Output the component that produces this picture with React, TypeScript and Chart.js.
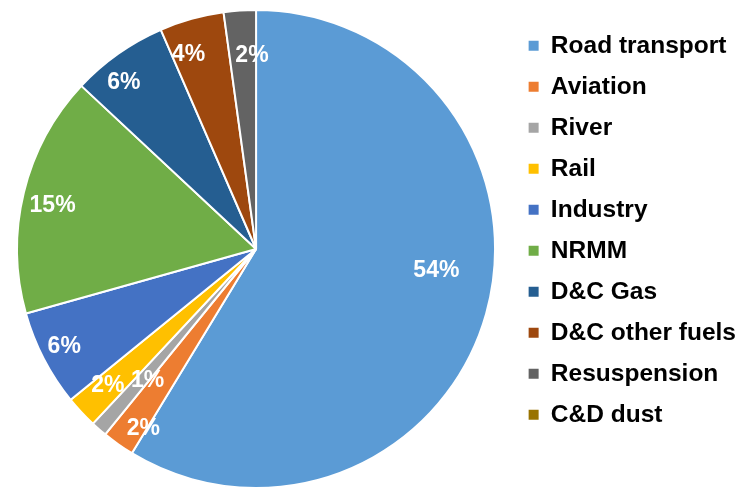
import React, { useEffect, useRef } from "react";
import { Chart, registerables } from "chart.js";

Chart.register(...registerables);

const categories = [
  "Road transport",
  "Aviation",
  "River",
  "Rail",
  "Industry",
  "NRMM",
  "D&C Gas",
  "D&C other fuels",
  "Resuspension",
  "C&D dust",
];
const shares = [54, 2, 1, 2, 6, 15, 6, 4, 2, 0];
const colors = [
  "#5B9BD5",
  "#ED7D31",
  "#A5A5A5",
  "#FFC000",
  "#4472C4",
  "#70AD47",
  "#255E91",
  "#9E480E",
  "#636363",
  "#997300",
];
// label placement hints (fraction of radius, angular nudge in degrees)
const labelRadius = [0.76, 0.887, 0.714, 0.843, 0.9, 0.87, 0.89, 0.86, 0.81, 0.8];
const labelShift = [-8.75, -3.1, -1.6, 0.4, 0.5, -1.8, -3.2, -3.55, 2.7, 0];

const FONT = "'Liberation Sans', Arial, sans-serif";

const labelPlugin = {
  id: "sliceLabels",
  afterDatasetsDraw(chart: any) {
    const ctx = chart.ctx;
    const meta = chart.getDatasetMeta(0);
    ctx.save();
    ctx.font = `bold 23px ${FONT}`;
    ctx.fillStyle = "#FFFFFF";
    ctx.textAlign = "center";
    ctx.textBaseline = "middle";
    meta.data.forEach((arc: any, i: number) => {
      const v = shares[i];
      if (!v) return;
      const { x, y, startAngle, endAngle, outerRadius } = arc.getProps(
        ["x", "y", "startAngle", "endAngle", "outerRadius"],
        true
      );
      const a = (startAngle + endAngle) / 2 + (labelShift[i] * Math.PI) / 180;
      const r = outerRadius * labelRadius[i];
      ctx.fillText(`${v}%`, x + r * Math.cos(a), y + r * Math.sin(a));
    });
    ctx.restore();
  },
};

export default function App() {
  const ref = useRef<HTMLCanvasElement | null>(null);
  useEffect(() => {
    if (!ref.current) return;
    const defaultGen = (Chart as any).overrides.pie.plugins.legend.labels.generateLabels;
    const chart = new Chart(ref.current, {
      type: "pie",
      data: {
        labels: categories,
        datasets: [
          {
            data: shares,
            backgroundColor: colors,
            borderColor: "#FFFFFF",
            borderWidth: 2,
          },
        ],
      },
      options: {
        animation: false,
        responsive: false,
        maintainAspectRatio: false,
        layout: { padding: { top: 9, bottom: 0, left: -4, right: -10 } },
        plugins: {
          tooltip: { enabled: false },
          legend: {
            position: "right",
            align: "start",
            title: { display: true, text: "", font: { size: 8, lineHeight: 1 }, padding: 0 },
            labels: {
              boxWidth: 10,
              boxHeight: 10,
              padding: 16.5,
              color: "#000000",
              font: { family: FONT, size: 24.5, weight: "bold" },
              generateLabels: (c: any) =>
                defaultGen(c).map((l: any) => ({ ...l, lineWidth: 0, strokeStyle: "rgba(0,0,0,0)" })),
            },
          },
        },
      },
      plugins: [labelPlugin],
    });
    return () => chart.destroy();
  }, []);
  return (
    <div style={{ position: "fixed", left: 0, top: 0, width: 736, height: 489, background: "#fff" }}>
      <canvas ref={ref} width={736} height={489} style={{ width: 736, height: 489 }} />
    </div>
  );
}
